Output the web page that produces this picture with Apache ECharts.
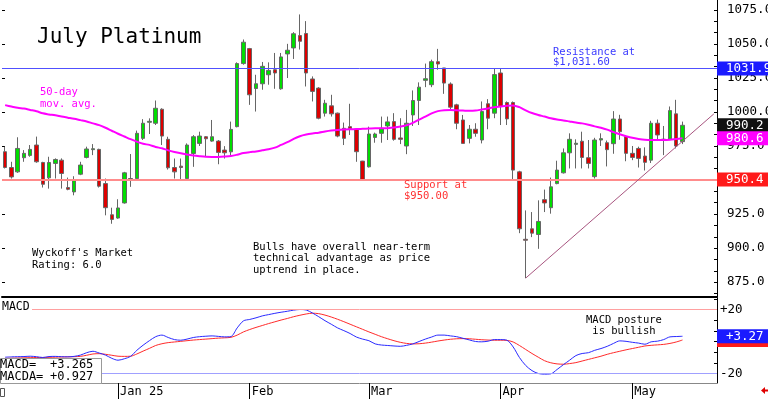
<!DOCTYPE html>
<html>
<head>
<meta charset="utf-8">
<script src="https://cdn.jsdelivr.net/npm/echarts@6/dist/echarts.min.js"></script>
<style>
html, body { margin: 0; padding: 0; background: #fff; }
#chart { width: 768px; height: 399px; }
</style>
</head>
<body>
<div id="chart"></div>
<script>
// trading days (last 5 are empty slots to the right of the last bar)
var dates = [
  '2024-12-05','2024-12-06','2024-12-09','2024-12-10','2024-12-11','2024-12-12','2024-12-13','2024-12-16','2024-12-17','2024-12-18','2024-12-19','2024-12-20','2024-12-23','2024-12-24','2024-12-26','2024-12-27','2024-12-30','2024-12-31',
  '2025-01-02','2025-01-03','2025-01-06','2025-01-07','2025-01-08','2025-01-09','2025-01-10','2025-01-13','2025-01-14','2025-01-15','2025-01-16','2025-01-17','2025-01-21','2025-01-22','2025-01-23','2025-01-24','2025-01-27','2025-01-28','2025-01-29','2025-01-30','2025-01-31',
  '2025-02-03','2025-02-04','2025-02-05','2025-02-06','2025-02-07','2025-02-10','2025-02-11','2025-02-12','2025-02-13','2025-02-14','2025-02-18','2025-02-19','2025-02-20','2025-02-21','2025-02-24','2025-02-25','2025-02-26','2025-02-27','2025-02-28',
  '2025-03-03','2025-03-04','2025-03-05','2025-03-06','2025-03-07','2025-03-10','2025-03-11','2025-03-12','2025-03-13','2025-03-14','2025-03-17','2025-03-18','2025-03-19','2025-03-20','2025-03-21','2025-03-24','2025-03-25','2025-03-26','2025-03-27','2025-03-28','2025-03-31',
  '2025-04-01','2025-04-02','2025-04-03','2025-04-04','2025-04-07','2025-04-08','2025-04-09','2025-04-10','2025-04-11','2025-04-14','2025-04-15','2025-04-16','2025-04-17','2025-04-21','2025-04-22','2025-04-23','2025-04-24','2025-04-25','2025-04-28','2025-04-29','2025-04-30',
  '2025-05-01','2025-05-02','2025-05-05','2025-05-06','2025-05-07','2025-05-08','2025-05-09','2025-05-12','2025-05-13','2025-05-14','2025-05-15','2025-05-16','2025-05-19','2025-05-20'
];

var opens = [
  970.8, 959.2, 956.0, 966.4, 968.1, 975.7, 962.9, 951.6, 962.2, 964.6,
  944.5, 941.3, 954.3, 966.6, 972.3, 972.5, 947.4, 924.5, 922.1, 933.2,
  951.1, 951.1, 980.6, 992.4, 991.7, 1002.0, 979.9, 959.2, 960.2, 951.1,
  969.5, 976.9, 981.8, 978.6, 978.6, 972.0, 970.7, 989.2, 1035.5, 1046.5,
  1017.2, 1020.7, 1027.3, 1031.0, 1017.0, 1042.6, 1047.0, 1056.1, 1057.6, 1024.2,
  1017.5, 999.1, 1004.5, 999.1, 988.0, 989.2, 987.3, 963.9, 959.7, 981.3,
  984.3, 989.7, 992.9, 980.9, 975.0, 997.8, 1008.4, 1023.2, 1020.0, 1036.9,
  1032.3, 1020.5, 1005.2, 994.1, 980.6, 987.3, 979.4, 1006.0, 999.1, 1028.6,
  1006.9, 1006.9, 956.0, 906.5, 914.2, 910.0, 935.6, 929.7, 947.4, 955.3,
  970.0, 976.2, 978.5, 966.4, 952.5, 979.4, 977.4, 976.7, 994.8, 981.9,
  969.6, 973.2, 967.6, 964.6, 991.7, 980.0, 979.9, 998.6, 978.2
];
var closes = [
  959.2, 952.3, 973.2, 969.6, 972.5, 963.4, 946.9, 962.9, 965.1, 954.8,
  943.2, 949.9, 961.0, 972.8, 973.0, 945.5, 929.7, 921.1, 929.5, 955.3,
  950.4, 984.3, 991.7, 993.1, 1002.7, 982.3, 959.0, 956.0, 959.2, 975.7,
  981.8, 982.3, 980.3, 981.8, 970.3, 970.0, 987.2, 1035.5, 1051.2, 1012.6,
  1020.7, 1033.5, 1030.5, 1028.6, 1040.4, 1045.3, 1057.4, 1051.9, 1028.6, 1015.1,
  995.4, 1006.4, 998.6, 982.3, 980.6, 987.7, 970.8, 949.9, 983.8, 983.8,
  988.0, 992.7, 979.9, 979.9, 991.7, 1008.4, 1018.2, 1024.4, 1036.9, 1035.2,
  1021.2, 1003.5, 991.7, 976.9, 987.3, 984.3, 1000.3, 995.4, 1027.4, 1004.0,
  994.9, 957.3, 914.2, 905.8, 911.0, 919.6, 933.2, 945.0, 957.3, 970.0,
  979.9, 977.0, 966.6, 962.2, 979.4, 980.4, 972.3, 994.8, 985.5, 969.6,
  966.6, 965.9, 963.0, 991.7, 983.1, 979.3, 1001.0, 975.0, 990.2
];
var lows = [
  958.5, 951.1, 955.3, 963.4, 967.1, 962.7, 944.5, 943.7, 951.1, 943.7,
  942.5, 938.8, 953.6, 965.9, 968.3, 944.5, 924.1, 917.9, 921.6, 932.7,
  945.0, 950.4, 979.4, 983.8, 990.4, 975.7, 957.7, 951.1, 949.4, 949.8,
  959.7, 975.0, 967.1, 978.1, 961.6, 965.8, 967.1, 988.7, 1034.7, 1005.2,
  1000.3, 1016.3, 1020.0, 1017.0, 1016.3, 1024.9, 1038.9, 1045.8, 1018.7, 1007.7,
  994.6, 996.6, 996.6, 981.4, 975.7, 983.1, 963.4, 949.4, 959.2, 977.4,
  977.4, 979.4, 978.9, 976.4, 969.0, 989.7, 990.4, 1018.2, 1018.2, 1031.0,
  1013.3, 1001.5, 987.3, 976.9, 976.9, 981.8, 976.9, 987.3, 995.4, 990.4,
  990.4, 949.9, 911.0, 878.0, 908.1, 899.5, 926.5, 925.3, 946.9, 954.8,
  958.5, 958.5, 958.5, 958.5, 951.1, 975.0, 960.0, 969.3, 979.6, 963.8,
  964.6, 959.2, 957.0, 962.5, 979.4, 968.3, 979.4, 973.2, 976.4
];
var highs = [
  974.5, 963.4, 981.4, 972.0, 975.7, 981.9, 963.4, 967.1, 965.9, 965.9,
  951.8, 952.8, 963.4, 974.5, 976.4, 973.0, 951.1, 929.7, 935.9, 956.0,
  969.1, 986.3, 994.7, 995.3, 1008.4, 1002.7, 981.8, 965.8, 965.8, 976.9,
  983.0, 985.5, 982.3, 994.1, 979.4, 974.9, 992.9, 1036.4, 1053.2, 1047.0,
  1027.3, 1036.7, 1036.4, 1043.3, 1043.3, 1050.0, 1058.6, 1071.6, 1066.7, 1026.1,
  1018.2, 1008.9, 1012.6, 999.5, 992.2, 1006.0, 988.0, 964.1, 989.2, 984.8,
  996.6, 996.6, 999.1, 995.4, 1001.5, 1015.8, 1021.7, 1035.5, 1038.4, 1046.3,
  1032.3, 1021.7, 1006.0, 997.8, 990.4, 991.7, 1007.7, 1009.4, 1031.6, 1031.6,
  1007.7, 1007.7, 956.8, 927.7, 926.5, 935.1, 943.0, 951.8, 964.2, 973.2,
  984.3, 979.9, 985.5, 979.4, 981.0, 984.3, 979.0, 1000.6, 997.9, 982.8,
  975.0, 974.5, 974.0, 993.5, 994.4, 989.7, 1004.0, 1008.9, 992.9
];

// 50-day moving average
var ma50 = [
  1005.0, 1004.0, 1003.0, 1002.5, 1001.5, 1000.5, 999.0, 998.2, 997.5, 996.6,
  995.8, 995.0, 994.0, 993.0, 991.6, 990.3, 988.4, 986.2, 984.0, 982.0,
  980.0, 978.2, 976.6, 975.8, 974.3, 973.3, 971.8, 970.6, 969.6, 968.7,
  968.0, 967.5, 967.1, 967.0, 967.0, 967.2, 967.6, 968.6, 969.8, 970.5,
  971.0, 971.8, 972.6, 973.8, 975.8, 977.8, 980.2, 982.2, 983.4, 984.2,
  984.8, 985.6, 986.3, 986.8, 987.1, 987.3, 987.4, 987.6, 987.8, 988.0,
  988.0, 988.1, 988.5, 989.3, 990.2, 992.0, 994.4, 996.6, 999.0, 1000.6,
  1001.3, 1001.4, 1001.2, 1001.0, 1000.8, 1001.0, 1001.8, 1002.6, 1003.4, 1004.0,
  1004.6, 1004.8, 1003.5, 1001.2, 999.2, 997.8, 996.6, 995.3, 994.4, 993.8,
  993.0, 992.2, 991.6, 990.6, 989.4, 988.4, 987.0, 985.2, 983.6, 982.2,
  981.0, 980.2, 979.6, 979.4, 979.4, 979.4, 979.6, 980.1, 980.6
];

var macd = [
  -9.8, -9.6, -9.5, -9.4, -9.2, -9.5, -10.0, -9.4, -9.3, -9.5,
  -9.6, -9.3, -8.5, -7.0, -6.1, -7.2, -8.5, -10.5, -11.7, -10.8,
  -9.3, -5.5, -2.3, 0.5, 3.0, 4.0, 2.5, 1.2, 0.8, 1.5,
  2.5, 3.0, 3.3, 3.5, 3.2, 2.9, 3.1, 8.5, 12.9, 13.8,
  14.8, 16.0, 16.8, 17.6, 18.3, 18.9, 19.6, 20.0, 19.7, 17.8,
  15.5, 13.0, 10.8, 8.5, 6.8, 5.0, 2.8, 1.5, 0.5, -1.5,
  -2.2, -2.5, -2.8, -3.0, -2.4, -1.5, 0.0, 1.5, 2.8, 4.0,
  4.0, 3.5, 3.0, 2.0, 1.0, 0.0, -0.2, 0.2, 1.2, 1.2,
  0.8, -3.4, -10.0, -15.0, -18.2, -20.0, -20.4, -20.2, -17.5, -14.5,
  -11.7, -8.8, -7.5, -7.0, -5.5, -4.4, -3.0, -1.2, 0.4, 0.1,
  -0.5, -1.0, -1.7, -0.2, 0.2, 1.2, 2.9, 3.1, 3.27
];
var macdAvg = [
  -10.5, -10.4, -10.3, -10.2, -10.1, -10.0, -10.0, -9.9, -9.8, -9.7,
  -9.6, -9.5, -9.3, -8.6, -7.8, -7.6, -8.0, -8.6, -9.2, -9.3,
  -9.2, -7.8, -6.0, -4.3, -2.5, -1.4, -0.7, -0.3, 0.1, 0.5,
  0.9, 1.2, 1.5, 1.8, 2.1, 2.3, 2.6, 4.0, 6.0, 7.5,
  8.8, 10.0, 11.2, 12.3, 13.4, 14.4, 15.5, 16.4, 17.2, 17.7,
  17.4, 16.5, 15.3, 13.9, 12.4, 10.8, 9.2, 7.6, 6.0, 4.5,
  3.0, 1.7, 0.5, -0.5, -1.2, -1.5, -1.4, -1.0, -0.4, 0.3,
  0.9, 1.4, 1.7, 1.8, 1.7, 1.4, 1.1, 0.9, 0.8, 0.8,
  0.7, -0.3, -2.5, -5.0, -7.5, -9.8, -12.0, -13.3, -14.0, -14.2,
  -13.8, -13.2, -12.2, -11.2, -10.2, -9.2, -8.0, -7.0, -6.1, -5.2,
  -4.4, -3.6, -2.8, -2.4, -2.1, -1.8, -1.2, -0.3, 0.93
];

var priceLabels = [875, 900, 925, 950, 975, 1000, 1025, 1050, 1075];
var macdLabels = [-20, 20];
var resistance = 1031.9;
var support = 950.4;
var lastClose = 990.2;
var lastMa = 980.6;
var lastMacd = 3.27;
var lastMacdAvg = 0.93;
// trend line: April low to right edge
var trendStart = [83, 878.0];
var trendEnd = [113, 998.6];

var mono = '"DejaVu Sans Mono", monospace';
var monthNames = { '01': 'Jan 25', '02': 'Feb', '03': 'Mar', '04': 'Apr', '05': 'May', '12': 'Dec' };
var GRID_L = 2;
var GRID_R = 717;

function isMonthStart (idx) {
  return idx > 0 && dates[idx].slice(5, 7) !== dates[idx - 1].slice(5, 7);
}

var priceTicks = [];
for (var t = 866.6667; t < 1083; t += 25 / 3) priceTicks.push(t);
var macdTicks = [];
for (var m = -26.6667; m < 27.5; m += 20 / 3) macdTicks.push(m);

var candleData = opens.map(function (o, i) {
  return [o, closes[i], lows[i], highs[i]];
});

function boxLabel (text, bg) {
  return {
    show: true,
    position: 'end',
    distance: 0,
    formatter: text,
    color: '#fff',
    backgroundColor: bg,
    padding: [1, 30, 0, 9],
    fontFamily: mono,
    fontSize: 12.5,
    lineHeight: 13
  };
}

// horizontal level across the whole plot: value from the axis, ends at the grid edges
function level (value, color, label, width) {
  return [
    {
      x: GRID_L,
      coord: [0, value],
      lineStyle: { color: color || 'transparent', width: color ? (width || 1) : 0, type: 'solid' },
      label: label || { show: false }
    },
    { x: GRID_R, coord: [dates.length - 1, value] }
  ];
}

function txt (x, y, s, color, size, lh) {
  return {
    type: 'text',
    x: x,
    y: y,
    z: 50,
    style: {
      text: s,
      fill: color || '#000',
      font: (size || 10.5) + 'px ' + mono,
      lineHeight: lh || 11,
      verticalAlign: 'top',
      textVerticalAlign: 'top'
    }
  };
}

var myChart = echarts.init(document.getElementById('chart'));

var option = {
  animation: false,
  backgroundColor: '#fff',
  grid: [
    { left: GRID_L, top: 0, width: GRID_R - GRID_L, height: 297, outerBoundsMode: 'none', containLabel: false },
    { left: GRID_L, top: 298, width: GRID_R - GRID_L, height: 85, outerBoundsMode: 'none', containLabel: false }
  ],
  xAxis: [
    {
      type: 'category',
      gridIndex: 0,
      data: dates,
      axisLine: { show: true, onZero: false, lineStyle: { color: '#000', width: 2 } },
      axisTick: { show: false },
      axisLabel: { show: false },
      splitLine: { show: false }
    },
    {
      type: 'category',
      gridIndex: 1,
      data: dates,
      axisLine: { show: true, onZero: false, lineStyle: { color: '#888', width: 1 } },
      axisTick: {
        show: true,
        alignWithLabel: true,
        interval: isMonthStart,
        length: 16,
        lineStyle: { color: '#000' }
      },
      axisLabel: {
        interval: isMonthStart,
        formatter: function (v) { return monthNames[v.slice(5, 7)]; },
        align: 'left',
        margin: 3,
        padding: [0, 0, 0, 2],
        color: '#000',
        fontFamily: mono,
        fontSize: 12
      },
      splitLine: { show: false }
    }
  ],
  yAxis: [
    {
      type: 'value',
      gridIndex: 0,
      position: 'right',
      min: 864.13,
      max: 1082.19,
      axisLine: { show: true, lineStyle: { color: '#000' } },
      axisTick: { show: true, inside: true, length: 3, customValues: priceTicks, lineStyle: { color: '#000' } },
      axisLabel: {
        customValues: priceLabels,
        formatter: function (v) { return v.toFixed(1); },
        margin: 10,
        color: '#000',
        fontFamily: mono,
        fontSize: 12.5
      },
      splitLine: { show: false }
    },
    {
      type: 'value',
      gridIndex: 0,
      position: 'left',
      min: 864.13,
      max: 1082.19,
      axisLine: { show: false },
      axisTick: { show: true, inside: true, length: 3, customValues: priceLabels, lineStyle: { color: '#000' } },
      axisLabel: { show: false },
      splitLine: { show: false }
    },
    {
      type: 'value',
      gridIndex: 1,
      position: 'right',
      min: -25.94,
      max: 27.19,
      axisLine: { show: true, lineStyle: { color: '#000' } },
      axisTick: { show: true, inside: true, length: 3, customValues: macdTicks, lineStyle: { color: '#000' } },
      axisLabel: {
        customValues: macdLabels,
        formatter: function (v) { return (v > 0 ? '+' : '') + v; },
        margin: 3,
        color: '#000',
        fontFamily: mono,
        fontSize: 12.5
      },
      splitLine: { show: false }
    }
  ],
  series: [
    {
      name: 'price',
      type: 'candlestick',
      xAxisIndex: 0,
      yAxisIndex: 0,
      data: candleData,
      barWidth: 4,
      itemStyle: {
        color: '#00dd00',
        color0: '#dd0000',
        borderColor: '#666',
        borderColor0: '#666',
        borderWidth: 1
      },
      markLine: {
        silent: true,
        symbol: ['none', 'none'],
        data: [
          level(resistance, '#5050ff', boxLabel('1031.9', '#1a1aff')),
          level(support, '#ff8c8c', boxLabel('950.4', '#ff1a1a'), 2),
          level(lastClose, null, boxLabel('990.2', '#111')),
          [
            { coord: trendStart, lineStyle: { color: '#a8557f', width: 1, type: 'solid' }, label: { show: false } },
            { coord: trendEnd }
          ]
        ]
      }
    },
    {
      name: '50-day',
      type: 'line',
      xAxisIndex: 0,
      yAxisIndex: 0,
      data: ma50,
      smooth: 0.3,
      showSymbol: false,
      lineStyle: { color: '#ff00ff', width: 2 },
      z: 3,
      markLine: {
        silent: true,
        symbol: ['none', 'none'],
        data: [level(lastMa, null, boxLabel('980.6', '#ff00ff'))]
      }
    },
    {
      name: 'MACDA',
      type: 'line',
      xAxisIndex: 1,
      yAxisIndex: 2,
      data: macdAvg,
      smooth: 0.3,
      showSymbol: false,
      lineStyle: { color: '#ff2a2a', width: 1 },
      markLine: {
        silent: true,
        symbol: ['none', 'none'],
        data: [level(20, '#ffa0a0'), level(lastMacdAvg, null, boxLabel('+0.93', '#ff1a1a'))]
      }
    },
    {
      name: 'MACD',
      type: 'line',
      xAxisIndex: 1,
      yAxisIndex: 2,
      data: macd,
      smooth: 0.3,
      showSymbol: false,
      lineStyle: { color: '#2a2aff', width: 1 },
      markLine: {
        silent: true,
        symbol: ['none', 'none'],
        data: [level(-20, '#a0a0ff'), level(lastMacd, null, boxLabel('+3.27', '#1a1aff'))]
      }
    }
  ],
  graphic: [
    txt(37, 25.5, 'July Platinum', '#000', 21, 24),
    txt(40, 86.5, '50-day\nmov. avg.', '#ff00ff', 10.5, 12),
    txt(553, 47, 'Resistance at\n$1,031.60', '#3a3aff', 10.5, 10.5),
    txt(404, 180.2, 'Support at\n$950.00', '#ff3030', 10.5, 10.5),
    txt(32, 247.5, "Wyckoff's Market\nRating: 6.0", '#000', 10.5, 12),
    txt(253, 241.5, 'Bulls have overall near-term\ntechnical advantage as price\nuptrend in place.', '#000', 10.5, 11.5),
    txt(586, 314.5, 'MACD posture\n is bullish', '#000', 10.5, 11),
    { type: 'rect', z: 40, shape: { x: 0, y: 300, width: 32, height: 12 }, style: { fill: '#fff' } },
    txt(2, 301, 'MACD', '#000', 11.5, 12),
    { type: 'rect', z: 40, shape: { x: 0.5, y: 358.5, width: 101, height: 25 }, style: { fill: '#fff', stroke: '#999', lineWidth: 1 } },
    txt(0, 359, 'MACD=', '#000', 12, 12.5),
    txt(50, 359, '+3.265', '#000', 12, 12.5),
    txt(0, 371, 'MACDA=', '#000', 12, 12.5),
    txt(50, 371, '+0.927', '#000', 12, 12.5),
    { type: 'rect', z: 40, shape: { x: 0.5, y: 388.5, width: 4, height: 8 }, style: { fill: '#fff', stroke: '#555', lineWidth: 1 } },
    {
      type: 'polygon',
      z: 40,
      shape: { points: [[761, 390.5], [765, 387], [765, 389.5], [768, 389.5], [768, 391.5], [765, 391.5], [765, 394]] },
      style: { fill: '#e00000' }
    }
  ]
};

myChart.setOption(option);
window.onresize = myChart.resize;
</script>
</body>
</html>
